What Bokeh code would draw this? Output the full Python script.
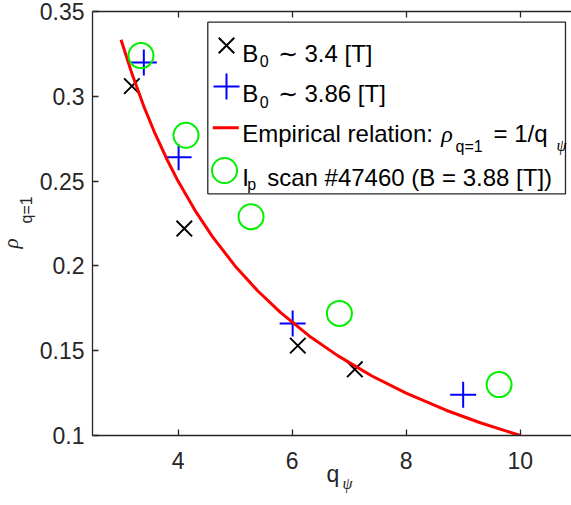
from bokeh.plotting import figure
from bokeh.models import Range1d, LinearAxis, FixedTicker, Label, Title
from bokeh.embed import file_html
from bokeh.resources import INLINE

# ---- data ----
b34_q = [3.19, 4.11, 6.10, 7.10]
b34_rho = [0.306, 0.222, 0.153, 0.139]

b386_q = [3.40, 4.01, 6.01, 9.00]
b386_rho = [0.320, 0.264, 0.166, 0.124]

ip_q = [3.35, 4.14, 5.28, 6.83, 9.63]
ip_rho = [0.324, 0.277, 0.229, 0.172, 0.130]

emp_q = [3.0, 3.2, 3.4, 3.6, 3.8, 4.0, 4.3, 4.6, 5.0, 5.4, 5.8, 6.3, 6.8, 7.4, 8.0, 8.7, 9.3, 10.0]
emp_rho = [0.3333, 0.3125, 0.2941, 0.2778, 0.2632, 0.2500, 0.2326, 0.2174, 0.2000, 0.1852,
           0.1724, 0.1587, 0.1471, 0.1351, 0.1250, 0.1149, 0.1075, 0.1000]

x_ticks = [4, 6, 8, 10]
y_ticks = [0.1, 0.15, 0.2, 0.25, 0.3, 0.35]
y_tick_labels = ["0.1", "0.15", "0.2", "0.25", "0.3", "0.35"]

AX = "#262626"
FONT = "Liberation Sans"
SERIF = "Liberation Serif"
GREEN = "#00F000"
FW, FH = 479, 424

p = figure(width=571, height=505, output_backend="svg", toolbar_location=None,
           x_range=Range1d(2.5, 10.9), y_range=Range1d(0.1, 0.35),
           min_border_left=92, min_border_right=0, min_border_top=11, min_border_bottom=70)
p.extra_x_ranges = {"px": Range1d(0, FW)}
p.extra_y_ranges = {"px": Range1d(FH, 0)}
p.outline_line_color = None
p.xgrid.visible = False
p.ygrid.visible = False

p.xaxis.ticker = FixedTicker(ticks=x_ticks)
p.yaxis.ticker = FixedTicker(ticks=y_ticks)
p.yaxis.major_label_overrides = {t: l for t, l in zip(y_ticks, y_tick_labels)}
for ax in (p.xaxis[0], p.yaxis[0]):
    ax.axis_line_color = AX
    ax.axis_line_width = 1.3
    ax.major_tick_line_color = AX
    ax.major_tick_line_width = 1.3
    ax.major_tick_in = 6
    ax.major_tick_out = 0
    ax.minor_tick_line_color = None
    ax.major_label_text_font = FONT
    ax.major_label_text_font_size = "23px"
    ax.major_label_text_color = AX
p.xaxis.major_label_standoff = 16
p.yaxis.major_label_standoff = 8

top = LinearAxis(ticker=FixedTicker(ticks=x_ticks),
                 major_label_overrides={t: "" for t in x_ticks},
                 major_tick_in=6, major_tick_out=0, major_label_standoff=0,
                 minor_tick_line_color=None, axis_line_color=AX, axis_line_width=1.3,
                 major_tick_line_color=AX, major_tick_line_width=1.3)
p.add_layout(top, "above")

# ---- axis titles (main letter + subscript) ----
p.add_layout(Title(text="q", text_font=FONT, text_font_size="23px", text_font_style="normal",
                   text_color=AX, align="left", offset=234, vertical_align="top", standoff=-22), "below")
p.add_layout(Title(text="\u03c8", text_font=SERIF, text_font_size="16px", text_font_style="italic",
                   text_color=AX, align="left", offset=250, vertical_align="top", standoff=-6), "below")
p.add_layout(Title(text="q=1", text_font=FONT, text_font_size="16px", text_font_style="normal",
                   text_color=AX, align="left", offset=212, vertical_align="bottom", standoff=4), "left")
p.add_layout(Title(text="\u03c1", text_font=SERIF, text_font_size="21px", text_font_style="italic",
                   text_color=AX, align="left", offset=187, vertical_align="bottom", standoff=-18), "left")

# ---- data marks ----
p.scatter(b34_q, b34_rho, marker="x", size=22, line_color="black", line_width=2)
p.scatter(b386_q, b386_rho, marker="cross", size=26, line_color="#0000FF", line_width=2)
p.line(emp_q, emp_rho, line_color="#FF0000", line_width=3)
p.scatter(ip_q, ip_rho, marker="circle", size=25, line_color=GREEN, fill_color=None, line_width=2)

# ---- legend (frame pixel coordinates, y downward) ----
p.quad(left=[115.3], right=[473], top=[10.7], bottom=[182.3], x_range_name="px", y_range_name="px",
       fill_color="white", line_color=AX, line_width=1.3)
p.scatter([134], [34], marker="x", size=22, line_color="black", line_width=2,
          x_range_name="px", y_range_name="px")
p.scatter([134], [75], marker="cross", size=26, line_color="#0000FF", line_width=2,
          x_range_name="px", y_range_name="px")
p.line([120.3, 146.3], [116.3, 116.3], line_color="#FF0000", line_width=3,
       x_range_name="px", y_range_name="px")
p.scatter([132], [159], marker="circle", size=25, line_color=GREEN, fill_color=None, line_width=2,
          x_range_name="px", y_range_name="px")


def lab(x, y, text, size="24px", font=FONT, style="normal", color="black"):
    p.add_layout(Label(x=x, y=y, x_range_name="px", y_range_name="px", text=text,
                       text_font=font, text_font_size=size, text_font_style=style,
                       text_baseline="alphabetic", text_align="left", text_color=color))


# row 1
lab(149.7, 42.3, "B")
lab(167.3, 49.7, "0", size="16px")
lab(185.3, 42.3, "\u223c 3.4 [T]")
# row 2
lab(149.7, 82.3, "B")
lab(167.3, 90.7, "0", size="16px")
lab(185.3, 82.3, "\u223c 3.86 [T]")
# row 3
lab(149.7, 122.3, "Empirical relation:")
lab(348.7, 122.3, "\u03c1", size="24px", font=SERIF, style="italic")
lab(363.0, 135.0, "q=1", size="16px")
lab(401.0, 122.3, "= 1/q")
lab(464.0, 134.0, "\u03c8", size="16px", font=SERIF, style="italic")
# row 4
lab(149.7, 165.7, "I")
lab(154.7, 173.0, "p", size="16px")
lab(174.7, 165.7, "scan #47460 (B = 3.88 [T])")

open("out.html", "w").write(file_html(p, INLINE))
